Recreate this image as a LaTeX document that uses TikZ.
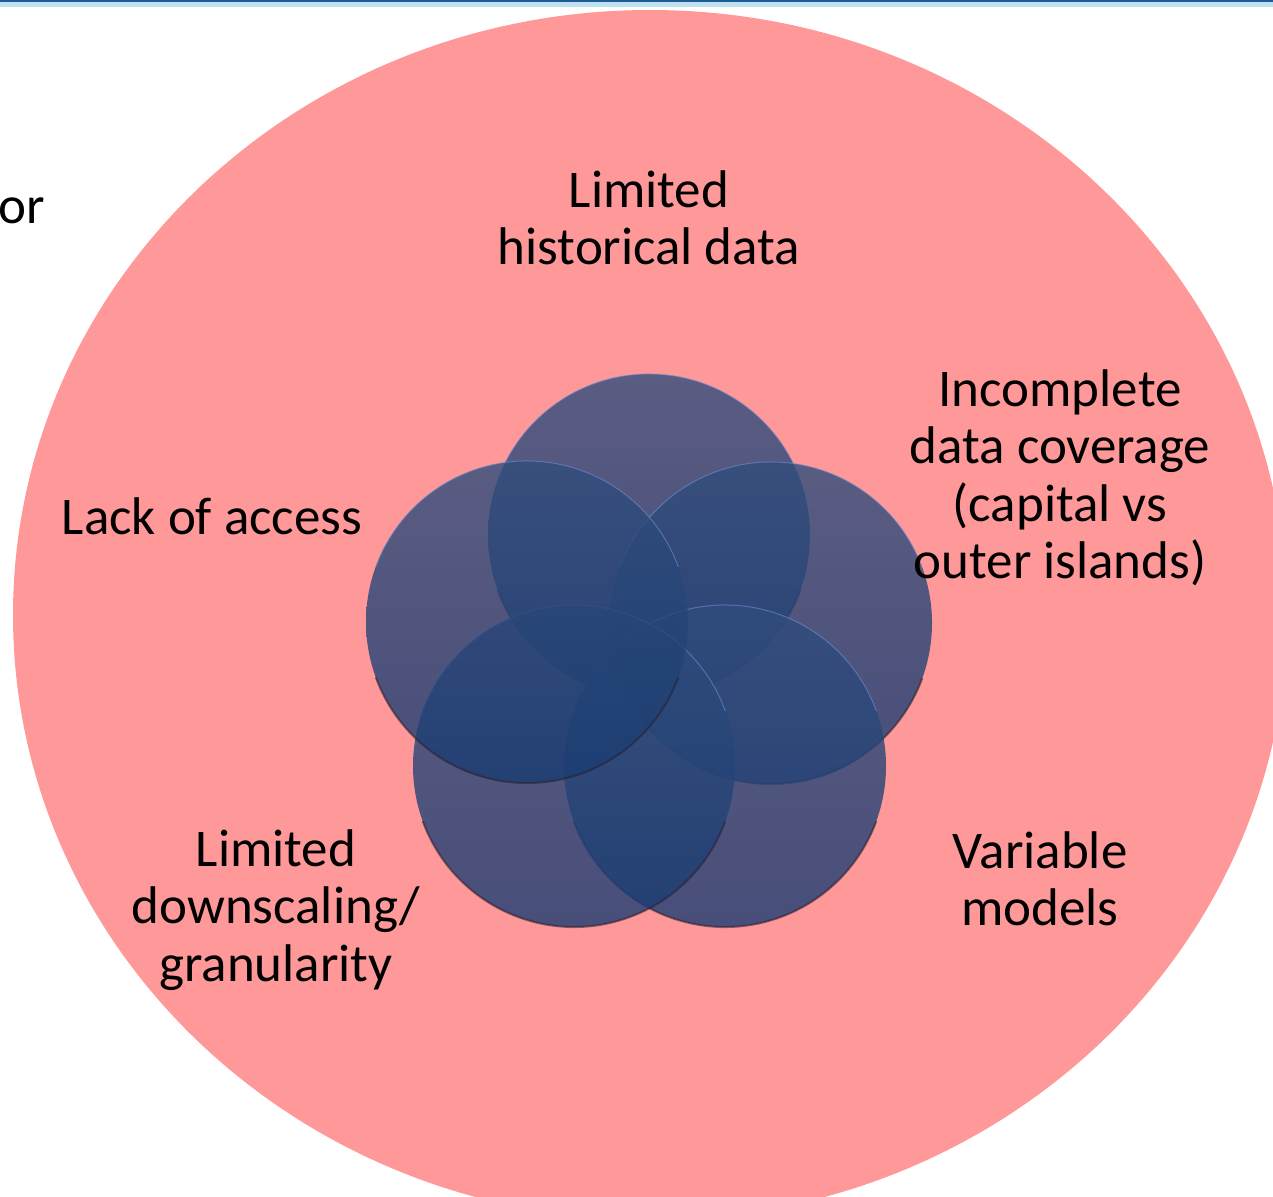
\documentclass[tikz,border=0pt]{standalone}
\usepackage{fontspec}
\setmainfont{Carlito}
\definecolor{pinkbg}{RGB}{255,153,153}
\definecolor{petaltop}{RGB}{49,77,124}
\definecolor{petalbot}{RGB}{26,60,114}
\definecolor{rimlight}{RGB}{110,140,210}
\definecolor{rimdark}{RGB}{45,30,45}
\definecolor{barblue}{RGB}{30,90,150}
\definecolor{barglow}{RGB}{190,225,240}
\tikzset{
  label/.style={align=center, inner sep=0pt, font=\fontsize{53}{57.5}\selectfont, text=black},
  petalfill/.style={top color=petaltop, bottom color=petalbot, fill opacity=0.8},
}
\newcommand{\petal}[2]{%
  \shade[petalfill] (#1) circle[radius=161pt];
  \draw[rimlight, line width=1pt, opacity=0.6] (#1) ++(20:161pt) arc[start angle=20, end angle=160, radius=161pt];
  \draw[rimdark, line width=2pt, opacity=0.55] (#1) ++(200:161pt) arc[start angle=200, end angle=340, radius=161pt];
}
\begin{document}
\begin{tikzpicture}[x=1pt,y=-1pt]
\useasboundingbox (0,0) rectangle (1273,1196);
\begin{scope}
\clip (0,0) rectangle (1273,1196);
\fill[barglow] (0,2.5) rectangle (1273,7);
\fill[barblue] (0,0) rectangle (1273,2.5);
\fill[pinkbg] (650,615) ellipse[x radius=637pt, y radius=605pt];
\end{scope}
\coordinate (ctop) at (649,535);
\coordinate (cright) at (771,623);
\coordinate (cbr) at (725,766);
\coordinate (cbl) at (574,766);
\coordinate (cleft) at (527,622);
\petal{ctop}{}
\petal{cright}{}
\petal{cbr}{}
\petal{cbl}{}
\petal{cleft}{}
\node[label] (hist) at (649,218) {Limited\\historical data};
\node[label] (cov) at (1060,478) {Incomplete\\data coverage\\(capital vs\\outer islands)};
\node[label] (acc) at (212,516) {Lack of access};
\node[label] (down) at (276,910) {Limited\\downscaling/\\granularity};
\node[label] (var) at (1040,879) {Variable\\models};
\node[label, anchor=west] (orx) at (-2,211) {or};
\end{tikzpicture}
\end{document}
